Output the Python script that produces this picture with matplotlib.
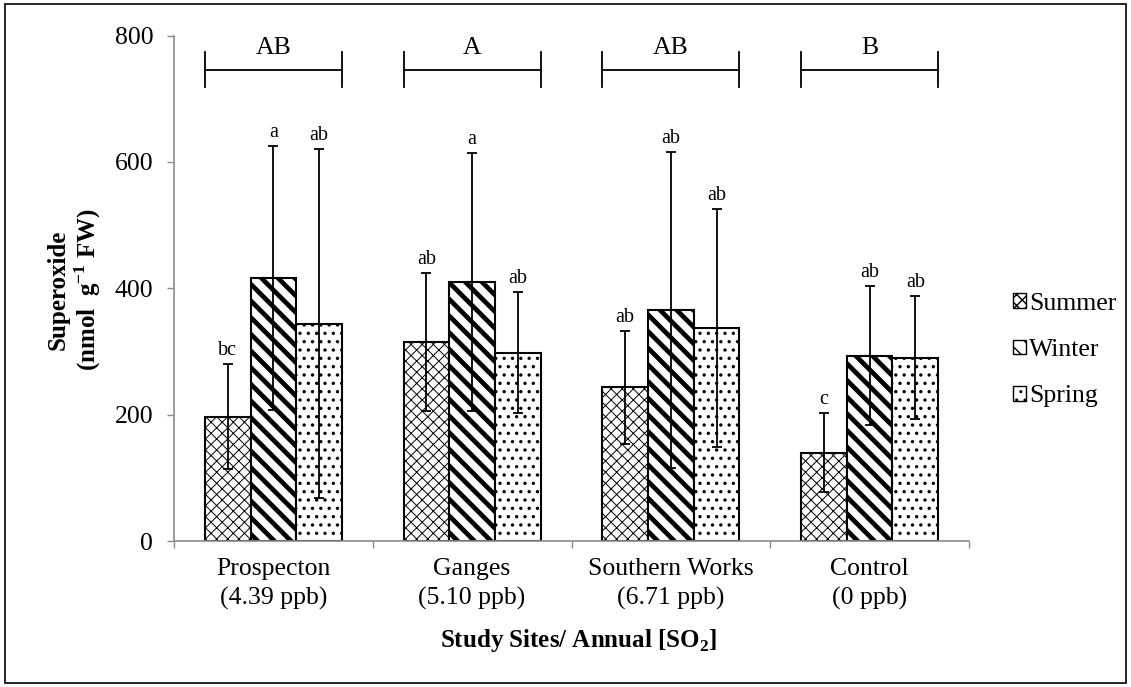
import numpy as np
import matplotlib
matplotlib.use('Agg')
import matplotlib.pyplot as plt
from matplotlib.patches import Patch, Rectangle

plt.rcParams['font.family'] = 'Liberation Serif'
plt.rcParams['mathtext.fontset'] = 'custom'
plt.rcParams['mathtext.rm'] = 'Liberation Serif'
plt.rcParams['mathtext.bf'] = 'Liberation Serif:bold'

sites = ['Prospecton\n(4.39 ppb)', 'Ganges\n(5.10 ppb)',
         'Southern Works\n(6.71 ppb)', 'Control\n(0 ppb)']
seasons = ['Summer', 'Winter', 'Spring']

# mean superoxide per site, one list per season
summer = [197, 315, 243, 140]
winter = [416, 410, 365, 293]
spring = [344, 298, 337, 290]
# standard deviations
summer_sd = [83, 109, 89, 62]
winter_sd = [209, 204, 250, 110]
spring_sd = [276, 96, 188, 97]
# letters over each bar
summer_let = ['bc', 'ab', 'ab', 'c']
winter_let = ['a', 'a', 'ab', 'ab']
spring_let = ['ab', 'ab', 'ab', 'ab']
# site groupings over the brackets
site_let = ['AB', 'A', 'AB', 'B']

means = [summer, winter, spring]
sds = [summer_sd, winter_sd, spring_sd]
lets = [summer_let, winter_let, spring_let]
hatches = ['xxx', '\\\\', '..']
hatch_lw = [0.7, 3.4, 1.2]

W, H = 1131, 687
fig = plt.figure(figsize=(W / 100, H / 100), dpi=100)
ax = fig.add_axes([174 / W, 1 - 541 / H, 795 / W, (541 - 35.5) / H])

x = np.arange(len(sites))
bw = 0.23
offs = [-bw, 0, bw]
for i in range(3):
    bars = ax.bar(x + offs[i], means[i], bw, color='white', edgecolor='black',
                  linewidth=1.5, hatch=hatches[i], label=seasons[i], zorder=2)
    for b in bars:
        if hasattr(b, 'set_hatch_linewidth'):
            b.set_hatch_linewidth(hatch_lw[i])
    ax.errorbar(x + offs[i], means[i], yerr=sds[i], fmt='none', ecolor='black',
                elinewidth=1.3, capsize=3.6, capthick=1.3, zorder=3)
    for j in range(len(sites)):
        ax.annotate(lets[i][j], (x[j] + offs[i], means[i][j] + sds[i][j]),
                    xytext=(0, 3), textcoords='offset points',
                    ha='center', va='bottom', fontsize=14.5)

# brackets spanning each site
for j in range(len(sites)):
    x0 = x[j] - 1.5 * bw
    x1 = x[j] + 1.5 * bw
    ax.plot([x0, x1], [745, 745], color='black', lw=1.3, clip_on=False)
    ax.plot([x0, x0], [718, 774], color='black', lw=1.3, clip_on=False)
    ax.plot([x1, x1], [718, 774], color='black', lw=1.3, clip_on=False)
    ax.text(x[j], 781, site_let[j], ha='center', va='center', fontsize=18.5)

ax.set_xlim(-0.5, 3.5)
ax.set_ylim(0, 800)
ax.set_yticks([0, 200, 400, 600, 800])
ax.set_xticks(x)
ax.set_xticklabels(sites, fontsize=18.5, linespacing=1.4)
ax.set_xticks(np.arange(-0.5, 4, 1), minor=True)
ax.tick_params(axis='x', which='major', length=0, pad=12)
ax.tick_params(axis='x', which='minor', length=5, width=1, color='#8c8c8c',
               direction='out')
ax.tick_params(axis='y', length=5, width=1, color='#8c8c8c', pad=10,
               labelsize=18.5)

for s in ['top', 'right']:
    ax.spines[s].set_visible(False)
for s in ['left', 'bottom']:
    ax.spines[s].set_color('#8c8c8c')
    ax.spines[s].set_linewidth(1.2)

fig.text(75 / W, 1 - 290 / H,
         'Superoxide\n(nmol  g$^{\\mathregular{-1}}$ FW)',
         rotation=90, ha='center', va='center', fontsize=18,
         fontweight='bold', multialignment='center', linespacing=1.1)
fig.text(579 / W, 1 - 641 / H, 'Study Sites/ Annual [SO$_{\\mathregular{2}}$]',
         ha='center', va='center', fontsize=18, fontweight='bold')

handles = []
for i in range(3):
    p = Patch(facecolor='white', edgecolor='black', hatch=hatches[i],
              linewidth=1.0, label=seasons[i])
    handles.append(p)
leg = fig.legend(handles=handles, loc='center left',
                 bbox_to_anchor=(1000 / W, 1 - 350 / H), frameon=False,
                 fontsize=18.5, handlelength=0.5, handleheight=0.5,
                 handletextpad=0.12, labelspacing=0.95, borderpad=0)

fig.patches.append(Rectangle((0.004, 0.006), 0.992, 0.988,
                             transform=fig.transFigure, fill=False,
                             edgecolor='black', linewidth=1.2))

fig.savefig('out.png', dpi=100)
